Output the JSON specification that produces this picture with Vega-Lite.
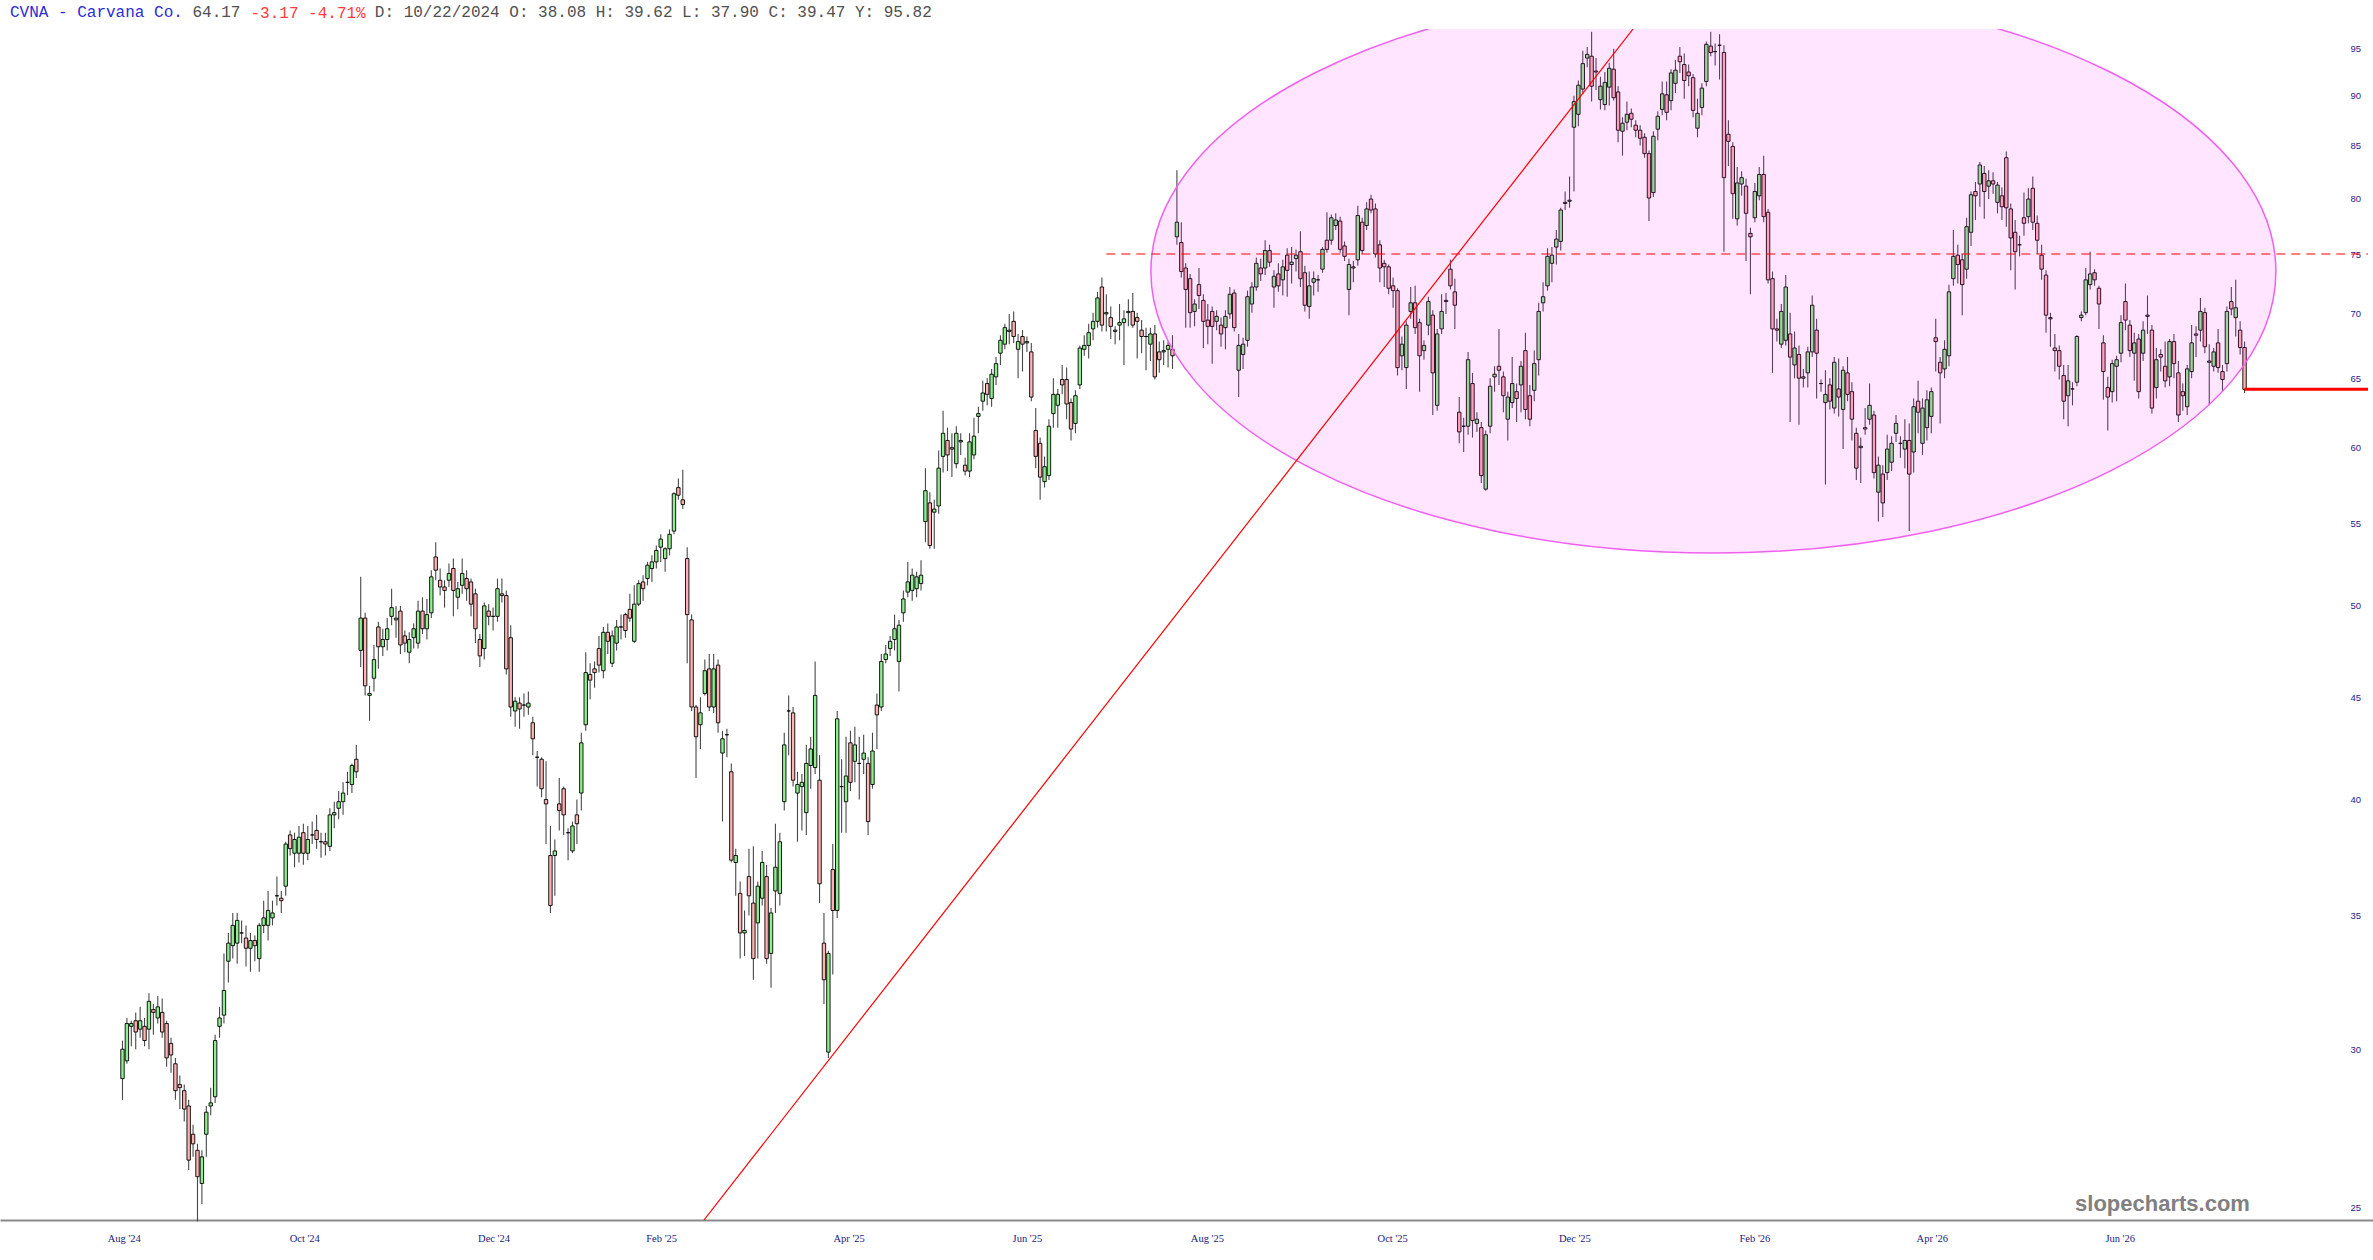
{
  "$schema": "https://vega.github.io/schema/vega-lite/v6.json",
  "width": 2373,
  "height": 1191,
  "autosize": {"type": "none"},
  "padding": {"top": 29, "left": 0, "right": 0, "bottom": 40},
  "background": "white",
  "config": {"view": {"stroke": null}},
  "title": {
    "text": "CVNA - Carvana Co.",
    "subtitle": "\u200b\u00a0\u00a0\u00a0\u00a0\u00a0\u00a0\u00a0\u00a0\u00a0\u00a0\u00a0\u00a0\u00a0\u00a0\u00a0\u00a0\u00a0\u00a0\u00a064.17\u00a0\u00a0\u00a0\u00a0\u00a0\u00a0\u00a0\u00a0\u00a0\u00a0\u00a0\u00a0\u00a0\u00a0D: 10/22/2024 O: 38.08 H: 39.62 L: 37.90 C: 39.47 Y: 95.82",
    "anchor": "start",
    "frame": "group",
    "dx": 10,
    "offset": -16,
    "font": "Liberation Mono",
    "fontSize": 16,
    "fontWeight": "normal",
    "color": "#2b2bd6",
    "subtitleFont": "Liberation Mono",
    "subtitleFontSize": 16,
    "subtitleColor": "#505050",
    "subtitlePadding": -16
  },
  "datasets": {
    "candles": [
      {"t":1,"o":29.0,"h":30.3,"l":28.3,"c":30.0},{"t":2,"o":29.6,"h":31.1,"l":29.5,"c":30.9},{"t":3,"o":30.8,"h":31.0,"l":30.1,"c":30.9},{"t":4,"o":31.0,"h":31.3,"l":30.0,"c":30.6},
      {"t":5,"o":30.7,"h":31.5,"l":30.4,"c":31.0},{"t":6,"o":30.8,"h":31.1,"l":30.1,"c":30.3},{"t":7,"o":30.7,"h":32.0,"l":30.0,"c":31.7},{"t":8,"o":31.4,"h":31.6,"l":30.5,"c":31.3},
      {"t":9,"o":31.1,"h":31.9,"l":30.9,"c":31.5},{"t":10,"o":31.3,"h":31.8,"l":30.4,"c":30.6},{"t":11,"o":30.9,"h":31.0,"l":29.4,"c":29.7},{"t":12,"o":30.2,"h":30.4,"l":29.2,"c":29.8},
      {"t":13,"o":29.5,"h":29.7,"l":28.3,"c":28.6},{"t":14,"o":28.8,"h":29.1,"l":28.0,"c":28.7},{"t":15,"o":28.6,"h":28.8,"l":27.6,"c":28.0},{"t":16,"o":28.1,"h":28.3,"l":26.1,"c":26.4},
      {"t":17,"o":27.2,"h":27.5,"l":26.5,"c":26.9},{"t":18,"o":26.7,"h":26.9,"l":24.6,"c":25.9},{"t":19,"o":25.7,"h":26.7,"l":25.1,"c":26.5},{"t":20,"o":27.2,"h":28.1,"l":26.5,"c":27.9},
      {"t":21,"o":28.1,"h":28.7,"l":27.8,"c":28.2},{"t":22,"o":28.4,"h":30.5,"l":28.2,"c":30.3},{"t":23,"o":30.8,"h":31.5,"l":30.4,"c":31.1},{"t":24,"o":31.2,"h":33.5,"l":30.9,"c":32.1},
      {"t":25,"o":33.2,"h":34.3,"l":32.4,"c":33.9},{"t":26,"o":33.8,"h":35.1,"l":33.3,"c":34.6},{"t":27,"o":33.9,"h":35.1,"l":33.1,"c":34.8},{"t":28,"o":34.3,"h":34.8,"l":33.9,"c":34.3},
      {"t":29,"o":34.1,"h":34.6,"l":33.0,"c":33.7},{"t":30,"o":33.7,"h":34.3,"l":32.8,"c":34.0},{"t":31,"o":34.0,"h":34.2,"l":33.2,"c":33.8},{"t":32,"o":33.3,"h":34.7,"l":32.8,"c":34.6},
      {"t":33,"o":34.6,"h":35.6,"l":34.3,"c":34.9},{"t":34,"o":34.6,"h":36.0,"l":34.0,"c":35.2},{"t":35,"o":34.9,"h":35.6,"l":34.6,"c":35.1},{"t":36,"o":35.8,"h":36.6,"l":35.4,"c":35.8},
      {"t":37,"o":35.7,"h":36.0,"l":35.1,"c":35.6},{"t":38,"o":36.2,"h":38.1,"l":35.8,"c":38.0},{"t":39,"o":38.4,"h":38.6,"l":37.5,"c":37.8},{"t":40,"o":37.6,"h":38.5,"l":37.0,"c":38.2},
      {"t":41,"o":37.6,"h":38.8,"l":37.2,"c":38.3},{"t":42,"o":38.5,"h":38.9,"l":37.1,"c":37.6},{"t":43,"o":37.6,"h":38.8,"l":37.3,"c":38.2},{"t":44,"o":38.4,"h":39.0,"l":38.0,"c":38.4},
      {"t":45,"o":38.6,"h":39.3,"l":37.8,"c":38.2},{"t":46,"o":38.1,"h":38.5,"l":37.4,"c":38.1},{"t":47,"o":38.1,"h":38.5,"l":37.5,"c":38.0},{"t":48,"o":37.9,"h":39.6,"l":37.7,"c":39.3},
      {"t":49,"o":39.3,"h":39.9,"l":38.7,"c":39.4},{"t":50,"o":39.6,"h":40.4,"l":39.1,"c":39.9},{"t":51,"o":39.9,"h":40.8,"l":39.3,"c":40.3},{"t":52,"o":40.8,"h":41.3,"l":40.2,"c":40.8},
      {"t":53,"o":40.7,"h":41.7,"l":40.3,"c":41.6},{"t":54,"o":41.9,"h":42.6,"l":41.0,"c":41.3},{"t":55,"o":47.5,"h":51.7,"l":46.6,"c":49.3},{"t":56,"o":49.3,"h":49.6,"l":45.1,"c":45.6},
      {"t":57,"o":45.1,"h":45.6,"l":43.8,"c":45.2},{"t":58,"o":46.0,"h":47.8,"l":45.3,"c":47.0},{"t":59,"o":48.8,"h":49.1,"l":46.5,"c":47.7},{"t":60,"o":47.7,"h":48.7,"l":47.2,"c":48.1},
      {"t":61,"o":48.1,"h":49.3,"l":47.5,"c":48.7},{"t":62,"o":49.4,"h":51.0,"l":48.9,"c":49.9},{"t":63,"o":49.2,"h":50.0,"l":48.2,"c":49.3},{"t":64,"o":49.7,"h":50.0,"l":47.3,"c":47.8},
      {"t":65,"o":48.3,"h":48.6,"l":47.4,"c":47.9},{"t":66,"o":47.4,"h":48.5,"l":46.8,"c":48.1},{"t":67,"o":48.2,"h":49.0,"l":47.6,"c":48.7},{"t":68,"o":47.9,"h":50.3,"l":47.6,"c":49.7},
      {"t":69,"o":49.7,"h":50.5,"l":48.4,"c":48.7},{"t":70,"o":48.7,"h":50.4,"l":48.1,"c":49.5},{"t":71,"o":49.6,"h":52.1,"l":49.3,"c":51.7},{"t":72,"o":52.9,"h":53.8,"l":51.5,"c":52.1},
      {"t":73,"o":51.5,"h":52.2,"l":50.6,"c":51.1},{"t":74,"o":51.1,"h":51.5,"l":49.9,"c":50.9},{"t":75,"o":51.5,"h":52.5,"l":51.1,"c":51.9},{"t":76,"o":52.2,"h":52.8,"l":49.4,"c":50.9},
      {"t":77,"o":50.5,"h":51.4,"l":49.8,"c":51.0},{"t":78,"o":51.2,"h":52.8,"l":50.7,"c":51.9},{"t":79,"o":51.6,"h":52.1,"l":50.3,"c":51.0},{"t":80,"o":51.4,"h":51.6,"l":49.4,"c":50.1},
      {"t":81,"o":50.7,"h":51.0,"l":47.9,"c":48.7},{"t":82,"o":48.1,"h":48.4,"l":46.6,"c":47.2},{"t":83,"o":47.6,"h":50.2,"l":47.0,"c":50.0},{"t":84,"o":49.7,"h":50.1,"l":48.9,"c":49.4},
      {"t":85,"o":49.4,"h":49.9,"l":48.6,"c":49.4},{"t":86,"o":49.4,"h":51.6,"l":49.1,"c":51.0},{"t":87,"o":50.7,"h":51.6,"l":50.2,"c":50.6},{"t":88,"o":50.6,"h":50.9,"l":46.2,"c":46.5},
      {"t":89,"o":48.2,"h":48.9,"l":44.0,"c":44.5},{"t":90,"o":44.3,"h":45.0,"l":43.5,"c":44.8},{"t":91,"o":44.7,"h":45.0,"l":43.4,"c":44.4},{"t":92,"o":44.6,"h":45.2,"l":44.0,"c":44.6},
      {"t":93,"o":44.5,"h":45.3,"l":44.1,"c":44.7},{"t":94,"o":43.7,"h":44.0,"l":42.1,"c":42.9},{"t":95,"o":42.0,"h":42.3,"l":40.6,"c":42.0},{"t":96,"o":41.9,"h":42.0,"l":40.1,"c":40.5},
      {"t":97,"o":40.0,"h":41.8,"l":38.0,"c":39.8},{"t":98,"o":37.5,"h":38.8,"l":35.1,"c":35.4},{"t":99,"o":37.5,"h":38.2,"l":35.8,"c":37.7},{"t":100,"o":39.8,"h":41.0,"l":38.6,"c":39.5},
      {"t":101,"o":40.5,"h":40.6,"l":38.4,"c":39.3},{"t":102,"o":38.5,"h":38.7,"l":37.3,"c":38.5},{"t":103,"o":37.7,"h":39.0,"l":37.6,"c":38.8},{"t":104,"o":39.3,"h":40.0,"l":38.0,"c":38.9},
      {"t":105,"o":40.3,"h":43.2,"l":39.5,"c":42.7},{"t":106,"o":43.6,"h":47.4,"l":43.3,"c":46.3},{"t":107,"o":46.2,"h":46.8,"l":44.9,"c":45.9},{"t":108,"o":46.5,"h":46.9,"l":45.5,"c":46.3},
      {"t":109,"o":47.6,"h":48.3,"l":46.3,"c":46.7},{"t":110,"o":46.4,"h":48.8,"l":46.0,"c":48.5},{"t":111,"o":48.5,"h":49.0,"l":47.3,"c":48.0},{"t":112,"o":46.8,"h":48.6,"l":46.6,"c":48.3},
      {"t":113,"o":47.9,"h":49.2,"l":47.5,"c":48.8},{"t":114,"o":48.8,"h":49.5,"l":48.1,"c":48.8},{"t":115,"o":49.5,"h":49.6,"l":48.2,"c":48.6},{"t":116,"o":49.8,"h":50.7,"l":49.1,"c":49.3},
      {"t":117,"o":48.0,"h":51.2,"l":47.9,"c":50.1},{"t":118,"o":50.1,"h":51.5,"l":50.0,"c":51.3},{"t":119,"o":51.4,"h":51.8,"l":50.3,"c":51.0},{"t":120,"o":51.6,"h":52.6,"l":51.2,"c":52.4},
      {"t":121,"o":52.2,"h":53.0,"l":51.4,"c":52.6},{"t":122,"o":52.6,"h":53.6,"l":52.2,"c":53.3},{"t":123,"o":53.5,"h":54.3,"l":52.6,"c":54.0},{"t":124,"o":52.8,"h":53.5,"l":52.0,"c":53.4},
      {"t":125,"o":53.4,"h":54.6,"l":53.0,"c":54.3},{"t":126,"o":54.5,"h":57.0,"l":54.3,"c":56.9},{"t":127,"o":57.3,"h":57.9,"l":56.5,"c":56.8},{"t":128,"o":56.5,"h":58.5,"l":55.9,"c":56.2},
      {"t":129,"o":52.8,"h":53.5,"l":46.8,"c":49.5},{"t":130,"o":49.2,"h":49.5,"l":44.3,"c":44.5},{"t":131,"o":44.5,"h":44.6,"l":41.0,"c":43.0},{"t":132,"o":43.6,"h":45.0,"l":42.4,"c":44.2},
      {"t":133,"o":45.2,"h":47.0,"l":45.1,"c":46.4},{"t":134,"o":46.5,"h":47.3,"l":44.3,"c":44.5},{"t":135,"o":44.5,"h":47.3,"l":44.2,"c":46.5},{"t":136,"o":46.7,"h":47.0,"l":43.2,"c":43.7},
      {"t":137,"o":42.2,"h":43.3,"l":39.0,"c":42.9},{"t":138,"o":43.1,"h":43.4,"l":42.0,"c":43.1},{"t":139,"o":41.3,"h":41.7,"l":37.2,"c":37.3},{"t":140,"o":37.2,"h":37.8,"l":35.8,"c":37.5},
      {"t":141,"o":35.9,"h":36.4,"l":33.3,"c":34.3},{"t":142,"o":34.3,"h":35.2,"l":33.4,"c":34.4},{"t":143,"o":36.6,"h":37.8,"l":35.0,"c":35.8},{"t":144,"o":35.5,"h":37.9,"l":32.5,"c":33.3},
      {"t":145,"o":34.7,"h":36.4,"l":33.3,"c":36.2},{"t":146,"o":35.7,"h":37.7,"l":35.4,"c":37.2},{"t":147,"o":36.6,"h":37.1,"l":33.1,"c":33.3},{"t":148,"o":33.5,"h":35.3,"l":32.2,"c":35.1},
      {"t":149,"o":36.0,"h":38.9,"l":35.1,"c":37.0},{"t":150,"o":35.9,"h":38.5,"l":35.4,"c":38.1},{"t":151,"o":39.9,"h":43.2,"l":39.5,"c":42.6},{"t":152,"o":44.3,"h":45.1,"l":42.1,"c":44.3},
      {"t":153,"o":44.2,"h":44.5,"l":40.6,"c":40.9},{"t":154,"o":40.3,"h":41.3,"l":38.1,"c":40.7},{"t":155,"o":40.6,"h":41.2,"l":38.6,"c":40.8},{"t":156,"o":39.4,"h":42.6,"l":38.4,"c":41.7},
      {"t":157,"o":41.6,"h":43.0,"l":40.5,"c":42.4},{"t":158,"o":41.5,"h":46.9,"l":41.2,"c":45.1},{"t":159,"o":40.9,"h":42.1,"l":35.5,"c":36.3},{"t":160,"o":33.9,"h":35.1,"l":31.6,"c":32.5},
      {"t":161,"o":29.9,"h":33.6,"l":29.7,"c":33.5},{"t":162,"o":36.9,"h":38.0,"l":32.7,"c":35.2},{"t":163,"o":35.2,"h":44.3,"l":34.9,"c":43.9},{"t":164,"o":40.6,"h":41.9,"l":38.5,"c":40.6},
      {"t":165,"o":39.9,"h":43.0,"l":38.5,"c":41.1},{"t":166,"o":42.7,"h":43.3,"l":40.4,"c":40.8},{"t":167,"o":41.8,"h":43.5,"l":40.8,"c":42.6},{"t":168,"o":41.7,"h":43.0,"l":40.0,"c":41.7},
      {"t":169,"o":41.9,"h":43.1,"l":41.2,"c":42.2},{"t":170,"o":41.7,"h":42.0,"l":38.4,"c":39.0},{"t":171,"o":40.7,"h":43.2,"l":40.5,"c":42.3},{"t":172,"o":44.6,"h":45.2,"l":42.4,"c":44.1},
      {"t":173,"o":44.5,"h":47.3,"l":44.3,"c":46.9},{"t":174,"o":47.0,"h":47.8,"l":46.8,"c":47.3},{"t":175,"o":47.6,"h":48.3,"l":47.2,"c":48.0},{"t":176,"o":48.1,"h":49.5,"l":47.5,"c":48.7},
      {"t":177,"o":46.9,"h":49.2,"l":45.3,"c":48.9},{"t":178,"o":49.6,"h":50.9,"l":49.1,"c":50.4},{"t":179,"o":50.8,"h":52.6,"l":50.5,"c":51.4},{"t":180,"o":50.9,"h":52.2,"l":50.3,"c":51.8},
      {"t":181,"o":51.0,"h":52.0,"l":50.5,"c":51.7},{"t":182,"o":51.3,"h":52.7,"l":50.9,"c":51.8},{"t":183,"o":55.1,"h":58.6,"l":53.8,"c":57.1},{"t":184,"o":56.3,"h":57.0,"l":53.4,"c":53.6},
      {"t":185,"o":55.7,"h":56.5,"l":53.4,"c":55.9},{"t":186,"o":56.1,"h":59.8,"l":55.6,"c":58.6},{"t":187,"o":59.4,"h":62.6,"l":58.3,"c":61.0},{"t":188,"o":60.5,"h":61.4,"l":58.4,"c":59.5},
      {"t":189,"o":60.0,"h":61.0,"l":58.0,"c":59.9},{"t":190,"o":58.9,"h":61.5,"l":58.6,"c":61.0},{"t":191,"o":60.4,"h":61.0,"l":59.5,"c":60.5},{"t":192,"o":58.8,"h":59.3,"l":58.1,"c":58.4},
      {"t":193,"o":58.4,"h":61.0,"l":58.0,"c":60.4},{"t":194,"o":59.5,"h":62.1,"l":59.2,"c":60.8},{"t":195,"o":62.2,"h":62.9,"l":61.0,"c":62.4},{"t":196,"o":63.3,"h":64.8,"l":62.6,"c":63.9},
      {"t":197,"o":64.6,"h":65.0,"l":63.0,"c":63.8},{"t":198,"o":63.5,"h":65.7,"l":62.9,"c":65.3},{"t":199,"o":65.1,"h":66.6,"l":64.5,"c":66.1},{"t":200,"o":66.9,"h":68.3,"l":66.0,"c":67.9},
      {"t":201,"o":67.6,"h":69.2,"l":67.2,"c":68.9},{"t":202,"o":68.7,"h":70.0,"l":67.6,"c":68.6},{"t":203,"o":69.4,"h":70.2,"l":67.7,"c":68.2},{"t":204,"o":67.2,"h":68.4,"l":65.0,"c":67.8},
      {"t":205,"o":68.2,"h":68.7,"l":65.5,"c":67.6},{"t":206,"o":67.7,"h":68.2,"l":67.0,"c":67.8},{"t":207,"o":67.0,"h":67.7,"l":63.3,"c":63.6},{"t":208,"o":61.2,"h":62.8,"l":58.6,"c":59.4},
      {"t":209,"o":60.3,"h":60.7,"l":56.5,"c":58.0},{"t":210,"o":57.7,"h":59.4,"l":57.3,"c":58.7},{"t":211,"o":58.1,"h":62.0,"l":57.8,"c":61.5},{"t":212,"o":62.4,"h":65.0,"l":61.4,"c":63.8},
      {"t":213,"o":63.0,"h":64.2,"l":61.4,"c":63.8},{"t":214,"o":64.9,"h":66.0,"l":63.8,"c":64.5},{"t":215,"o":64.9,"h":65.8,"l":62.0,"c":63.1},{"t":216,"o":63.2,"h":63.5,"l":60.5,"c":61.3},
      {"t":217,"o":61.7,"h":64.1,"l":61.0,"c":63.7},{"t":218,"o":64.5,"h":67.5,"l":64.2,"c":67.3},{"t":219,"o":67.2,"h":68.3,"l":66.7,"c":67.5},{"t":220,"o":67.5,"h":69.2,"l":66.5,"c":68.5},
      {"t":221,"o":68.8,"h":70.1,"l":67.9,"c":69.4},{"t":222,"o":69.4,"h":71.8,"l":68.9,"c":71.3},{"t":223,"o":72.2,"h":73.0,"l":68.6,"c":69.1},{"t":224,"o":70.0,"h":71.6,"l":68.6,"c":70.1},
      {"t":225,"o":69.7,"h":70.6,"l":68.0,"c":69.0},{"t":226,"o":68.7,"h":69.0,"l":67.6,"c":68.6},{"t":227,"o":69.1,"h":70.8,"l":67.9,"c":69.3},{"t":228,"o":69.3,"h":70.3,"l":66.0,"c":69.6},
      {"t":229,"o":70.1,"h":71.2,"l":69.0,"c":70.2},{"t":230,"o":70.2,"h":71.7,"l":68.9,"c":69.1},{"t":231,"o":69.7,"h":70.1,"l":66.5,"c":69.4},{"t":232,"o":68.7,"h":69.5,"l":66.9,"c":68.2},
      {"t":233,"o":68.2,"h":68.9,"l":65.6,"c":68.2},{"t":234,"o":67.6,"h":68.9,"l":66.3,"c":68.4},{"t":235,"o":68.4,"h":69.1,"l":64.9,"c":65.1},{"t":236,"o":67.0,"h":67.8,"l":65.4,"c":66.4},
      {"t":237,"o":67.0,"h":67.9,"l":66.0,"c":67.1},{"t":238,"o":67.2,"h":67.8,"l":65.8,"c":67.5},{"t":239,"o":67.2,"h":68.3,"l":65.7,"c":66.7},{"t":240,"o":76.5,"h":82.6,"l":75.8,"c":77.8},
      {"t":241,"o":76.0,"h":77.8,"l":73.0,"c":73.5},{"t":242,"o":73.8,"h":74.2,"l":68.9,"c":72.0},{"t":243,"o":72.9,"h":73.3,"l":68.9,"c":70.1},{"t":244,"o":70.2,"h":71.2,"l":69.0,"c":70.8},
      {"t":245,"o":72.4,"h":73.8,"l":70.4,"c":71.5},{"t":246,"o":71.1,"h":71.6,"l":67.3,"c":69.4},{"t":247,"o":69.5,"h":70.8,"l":67.6,"c":69.0},{"t":248,"o":70.2,"h":70.6,"l":66.1,"c":69.0},
      {"t":249,"o":69.4,"h":70.3,"l":68.7,"c":69.8},{"t":250,"o":69.1,"h":69.7,"l":67.4,"c":68.4},{"t":251,"o":68.9,"h":70.3,"l":67.2,"c":69.8},{"t":252,"o":70.0,"h":72.2,"l":69.6,"c":71.6},
      {"t":253,"o":71.7,"h":72.0,"l":68.6,"c":68.9},{"t":254,"o":65.6,"h":68.4,"l":63.6,"c":67.5},{"t":255,"o":66.8,"h":68.1,"l":65.7,"c":67.6},{"t":256,"o":67.9,"h":71.9,"l":67.4,"c":71.4},
      {"t":257,"o":70.8,"h":72.6,"l":70.1,"c":72.2},{"t":258,"o":72.2,"h":74.7,"l":71.9,"c":74.2},{"t":259,"o":73.8,"h":74.6,"l":72.7,"c":73.3},{"t":260,"o":73.8,"h":76.2,"l":73.2,"c":75.3},
      {"t":261,"o":75.3,"h":75.8,"l":73.9,"c":74.3},{"t":262,"o":72.2,"h":73.6,"l":70.5,"c":73.1},{"t":263,"o":73.3,"h":74.2,"l":71.8,"c":72.3},{"t":264,"o":72.8,"h":74.5,"l":71.5,"c":73.9},
      {"t":265,"o":74.9,"h":75.5,"l":71.4,"c":73.6},{"t":266,"o":74.1,"h":75.6,"l":72.5,"c":74.3},{"t":267,"o":74.6,"h":75.4,"l":73.5,"c":74.9},{"t":268,"o":75.2,"h":77.0,"l":72.2,"c":72.9},
      {"t":269,"o":73.4,"h":74.0,"l":70.2,"c":70.7},{"t":270,"o":70.6,"h":73.5,"l":69.6,"c":72.3},{"t":271,"o":72.6,"h":73.5,"l":71.5,"c":72.9},{"t":272,"o":72.8,"h":73.2,"l":71.8,"c":72.8},
      {"t":273,"o":73.7,"h":75.6,"l":73.4,"c":75.4},{"t":274,"o":76.2,"h":78.7,"l":75.1,"c":75.4},{"t":275,"o":76.2,"h":78.5,"l":75.8,"c":78.2},{"t":276,"o":77.5,"h":78.6,"l":77.1,"c":78.0},
      {"t":277,"o":77.9,"h":78.3,"l":75.1,"c":75.4},{"t":278,"o":75.7,"h":76.1,"l":74.4,"c":74.8},{"t":279,"o":72.0,"h":74.6,"l":69.9,"c":74.1},{"t":280,"o":73.8,"h":74.4,"l":72.6,"c":73.9},
      {"t":281,"o":74.5,"h":79.3,"l":74.0,"c":78.4},{"t":282,"o":77.8,"h":78.2,"l":75.0,"c":75.3},{"t":283,"o":77.5,"h":79.6,"l":77.1,"c":79.0},{"t":284,"o":79.9,"h":80.3,"l":78.6,"c":78.9},
      {"t":285,"o":79.0,"h":79.5,"l":74.7,"c":75.0},{"t":286,"o":75.8,"h":76.2,"l":72.6,"c":73.8},{"t":287,"o":74.2,"h":74.5,"l":72.2,"c":73.9},{"t":288,"o":73.9,"h":74.1,"l":71.6,"c":72.1},
      {"t":289,"o":72.3,"h":73.0,"l":70.5,"c":71.9},{"t":290,"o":71.9,"h":72.1,"l":65.2,"c":65.8},{"t":291,"o":66.7,"h":68.2,"l":65.6,"c":67.6},{"t":292,"o":65.8,"h":69.4,"l":64.2,"c":69.1},
      {"t":293,"o":70.2,"h":72.2,"l":69.6,"c":70.9},{"t":294,"o":70.9,"h":72.3,"l":68.4,"c":68.9},{"t":295,"o":69.3,"h":69.6,"l":64.0,"c":66.7},{"t":296,"o":67.1,"h":67.9,"l":66.4,"c":67.5},
      {"t":297,"o":69.1,"h":71.4,"l":68.3,"c":71.0},{"t":298,"o":69.9,"h":70.3,"l":62.3,"c":65.4},{"t":299,"o":63.0,"h":68.8,"l":62.6,"c":68.4},{"t":300,"o":68.8,"h":71.6,"l":68.4,"c":70.2},
      {"t":301,"o":71.0,"h":71.7,"l":70.0,"c":71.1},{"t":302,"o":73.7,"h":74.5,"l":72.0,"c":72.3},{"t":303,"o":71.8,"h":72.9,"l":68.8,"c":70.7},{"t":304,"o":62.5,"h":63.6,"l":60.3,"c":61.1},
      {"t":305,"o":61.5,"h":62.1,"l":59.7,"c":61.5},{"t":306,"o":61.5,"h":67.0,"l":60.9,"c":66.4},{"t":307,"o":64.6,"h":65.4,"l":60.7,"c":61.9},{"t":308,"o":61.7,"h":62.5,"l":61.1,"c":62.0},
      {"t":309,"o":61.4,"h":61.8,"l":57.6,"c":58.1},{"t":310,"o":57.2,"h":61.2,"l":57.1,"c":60.9},{"t":311,"o":61.5,"h":65.0,"l":61.0,"c":64.4},{"t":312,"o":65.1,"h":65.9,"l":64.0,"c":65.3},
      {"t":313,"o":65.9,"h":68.8,"l":64.5,"c":65.6},{"t":314,"o":65.1,"h":65.5,"l":62.5,"c":63.7},{"t":315,"o":62.0,"h":64.0,"l":60.5,"c":63.6},{"t":316,"o":63.2,"h":66.6,"l":62.8,"c":64.6},
      {"t":317,"o":64.0,"h":64.6,"l":61.8,"c":63.5},{"t":318,"o":64.5,"h":66.3,"l":62.5,"c":65.9},{"t":319,"o":67.1,"h":68.5,"l":62.0,"c":62.7},{"t":320,"o":63.7,"h":64.5,"l":61.5,"c":62.0},
      {"t":321,"o":64.1,"h":67.1,"l":63.3,"c":66.1},{"t":322,"o":66.4,"h":70.9,"l":65.2,"c":70.2},{"t":323,"o":70.9,"h":72.6,"l":70.2,"c":71.4},{"t":324,"o":72.3,"h":75.5,"l":71.9,"c":74.8},
      {"t":325,"o":74.2,"h":75.6,"l":72.6,"c":74.9},{"t":326,"o":75.6,"h":77.1,"l":74.1,"c":76.3},{"t":327,"o":76.1,"h":79.1,"l":75.3,"c":78.9},{"t":328,"o":79.5,"h":80.6,"l":78.9,"c":79.6},
      {"t":329,"o":79.7,"h":82.0,"l":79.1,"c":79.8},{"t":330,"o":86.8,"h":90.0,"l":80.6,"c":89.4},{"t":331,"o":88.1,"h":91.6,"l":86.9,"c":91.1},{"t":332,"o":90.7,"h":94.8,"l":90.2,"c":93.4},
      {"t":333,"o":94.0,"h":95.2,"l":93.0,"c":94.4},{"t":334,"o":94.2,"h":96.9,"l":89.4,"c":91.0},{"t":335,"o":92.6,"h":94.0,"l":90.6,"c":92.5},{"t":336,"o":89.6,"h":92.0,"l":88.6,"c":91.0},
      {"t":337,"o":89.1,"h":92.5,"l":88.5,"c":91.4},{"t":338,"o":90.9,"h":93.5,"l":89.0,"c":92.9},{"t":339,"o":92.8,"h":95.0,"l":89.5,"c":89.8},{"t":340,"o":90.4,"h":91.0,"l":85.3,"c":86.5},
      {"t":341,"o":86.4,"h":87.8,"l":84.0,"c":87.2},{"t":342,"o":87.3,"h":89.4,"l":86.5,"c":88.1},{"t":343,"o":88.2,"h":88.7,"l":86.8,"c":87.6},{"t":344,"o":87.0,"h":87.5,"l":85.8,"c":86.5},
      {"t":345,"o":86.5,"h":87.0,"l":85.0,"c":85.7},{"t":346,"o":85.8,"h":86.2,"l":83.8,"c":84.2},{"t":347,"o":84.2,"h":84.5,"l":77.9,"c":80.0},{"t":348,"o":80.5,"h":86.4,"l":80.1,"c":85.9},
      {"t":349,"o":86.6,"h":88.4,"l":85.5,"c":87.9},{"t":350,"o":88.6,"h":91.5,"l":88.0,"c":90.2},{"t":351,"o":90.1,"h":91.5,"l":87.5,"c":88.3},{"t":352,"o":89.5,"h":92.8,"l":88.5,"c":92.4},
      {"t":353,"o":91.3,"h":93.8,"l":90.3,"c":92.7},{"t":354,"o":94.2,"h":95.2,"l":92.4,"c":93.6},{"t":355,"o":93.3,"h":94.5,"l":89.7,"c":91.6},{"t":356,"o":92.5,"h":93.3,"l":91.0,"c":92.1},
      {"t":357,"o":91.9,"h":92.3,"l":87.8,"c":88.5},{"t":358,"o":86.7,"h":89.7,"l":85.8,"c":88.2},{"t":359,"o":88.8,"h":91.3,"l":88.0,"c":90.8},{"t":360,"o":91.5,"h":95.8,"l":91.0,"c":95.5},
      {"t":361,"o":95.3,"h":96.9,"l":94.2,"c":94.6},{"t":362,"o":94.7,"h":95.6,"l":93.2,"c":94.7},{"t":363,"o":95.4,"h":96.6,"l":91.7,"c":95.4},{"t":364,"o":94.6,"h":95.4,"l":75.2,"c":81.9},
      {"t":365,"o":86.1,"h":87.5,"l":83.0,"c":85.4},{"t":366,"o":84.9,"h":85.3,"l":78.1,"c":80.4},{"t":367,"o":78.1,"h":82.9,"l":77.5,"c":81.4},{"t":368,"o":81.3,"h":82.5,"l":80.2,"c":81.9},
      {"t":369,"o":81.1,"h":81.8,"l":74.4,"c":78.6},{"t":370,"o":76.8,"h":77.3,"l":71.6,"c":76.5},{"t":371,"o":78.2,"h":81.4,"l":77.8,"c":80.6},{"t":372,"o":80.2,"h":82.9,"l":79.8,"c":82.2},
      {"t":373,"o":82.2,"h":84.0,"l":77.8,"c":78.3},{"t":374,"o":78.7,"h":79.0,"l":72.5,"c":72.8},{"t":375,"o":72.9,"h":73.5,"l":65.4,"c":68.8},{"t":376,"o":68.8,"h":69.6,"l":67.8,"c":68.7},
      {"t":377,"o":67.6,"h":70.8,"l":67.3,"c":70.2},{"t":378,"o":67.9,"h":73.2,"l":67.5,"c":72.2},{"t":379,"o":68.4,"h":70.1,"l":61.8,"c":66.6},{"t":380,"o":66.0,"h":68.6,"l":65.0,"c":67.3},
      {"t":381,"o":66.8,"h":67.5,"l":61.6,"c":65.0},{"t":382,"o":65.0,"h":65.7,"l":64.3,"c":65.1},{"t":383,"o":65.4,"h":67.4,"l":64.3,"c":67.0},{"t":384,"o":67.0,"h":71.5,"l":66.6,"c":70.7},
      {"t":385,"o":68.7,"h":69.6,"l":63.5,"c":66.9},{"t":386,"o":64.6,"h":64.9,"l":64.0,"c":64.6},{"t":387,"o":63.2,"h":65.6,"l":57.5,"c":63.8},{"t":388,"o":64.5,"h":65.0,"l":62.7,"c":63.3},
      {"t":389,"o":62.8,"h":66.6,"l":62.4,"c":66.2},{"t":390,"o":64.2,"h":66.5,"l":62.2,"c":63.6},{"t":391,"o":62.7,"h":65.9,"l":59.9,"c":65.6},{"t":392,"o":65.4,"h":66.6,"l":63.3,"c":63.8},
      {"t":393,"o":64.0,"h":64.7,"l":60.5,"c":62.0},{"t":394,"o":61.0,"h":61.4,"l":57.8,"c":58.6},{"t":395,"o":60.0,"h":60.7,"l":57.6,"c":60.1},{"t":396,"o":61.4,"h":62.8,"l":60.9,"c":61.3},
      {"t":397,"o":62.0,"h":64.6,"l":61.6,"c":63.0},{"t":398,"o":62.3,"h":62.6,"l":57.9,"c":58.3},{"t":399,"o":57.0,"h":59.4,"l":55.1,"c":58.8},{"t":400,"o":58.2,"h":58.8,"l":55.4,"c":56.3},
      {"t":401,"o":58.3,"h":60.9,"l":57.8,"c":59.9},{"t":402,"o":59.0,"h":60.8,"l":58.4,"c":60.3},{"t":403,"o":61.0,"h":62.3,"l":60.4,"c":61.7},{"t":404,"o":60.3,"h":60.8,"l":59.3,"c":60.3},
      {"t":405,"o":59.9,"h":62.0,"l":58.6,"c":60.5},{"t":406,"o":60.5,"h":61.7,"l":54.5,"c":58.2},{"t":407,"o":59.7,"h":63.5,"l":58.3,"c":62.9},{"t":408,"o":63.3,"h":64.8,"l":61.0,"c":62.5},
      {"t":409,"o":60.3,"h":63.5,"l":59.5,"c":62.8},{"t":410,"o":61.4,"h":64.1,"l":60.5,"c":63.4},{"t":411,"o":62.2,"h":64.3,"l":61.0,"c":64.0},{"t":412,"o":68.1,"h":69.6,"l":65.5,"c":67.8},
      {"t":413,"o":66.2,"h":66.6,"l":61.7,"c":65.4},{"t":414,"o":65.7,"h":67.9,"l":65.0,"c":67.2},{"t":415,"o":66.7,"h":72.4,"l":65.9,"c":71.8},{"t":416,"o":72.9,"h":77.1,"l":72.3,"c":74.8},
      {"t":417,"o":74.9,"h":75.8,"l":72.5,"c":74.1},{"t":418,"o":74.5,"h":75.0,"l":69.9,"c":72.4},{"t":419,"o":73.7,"h":78.2,"l":72.9,"c":77.4},{"t":420,"o":76.9,"h":80.6,"l":75.7,"c":80.3},
      {"t":421,"o":80.6,"h":81.5,"l":78.0,"c":80.2},{"t":422,"o":81.3,"h":83.4,"l":79.2,"c":83.1},{"t":423,"o":82.3,"h":83.0,"l":78.1,"c":80.6},{"t":424,"o":81.1,"h":82.6,"l":79.9,"c":81.6},
      {"t":425,"o":81.6,"h":82.4,"l":80.4,"c":81.3},{"t":426,"o":79.6,"h":81.5,"l":78.6,"c":81.2},{"t":427,"o":80.2,"h":81.0,"l":78.0,"c":79.2},{"t":428,"o":83.8,"h":84.4,"l":77.4,"c":79.1},
      {"t":429,"o":79.0,"h":79.5,"l":73.6,"c":76.4},{"t":430,"o":76.9,"h":78.0,"l":72.0,"c":75.2},{"t":431,"o":75.8,"h":76.6,"l":74.8,"c":75.8},{"t":432,"o":78.2,"h":80.5,"l":76.6,"c":77.7},
      {"t":433,"o":78.3,"h":80.9,"l":77.7,"c":79.9},{"t":434,"o":80.9,"h":82.0,"l":77.1,"c":77.8},{"t":435,"o":77.7,"h":78.4,"l":75.0,"c":76.2},{"t":436,"o":74.9,"h":75.8,"l":72.8,"c":73.7},
      {"t":437,"o":73.2,"h":73.6,"l":68.5,"c":69.9},{"t":438,"o":69.7,"h":70.1,"l":67.4,"c":69.6},{"t":439,"o":67.3,"h":68.4,"l":65.5,"c":67.1},{"t":440,"o":67.1,"h":67.5,"l":64.9,"c":65.9},
      {"t":441,"o":65.2,"h":66.0,"l":62.0,"c":63.3},{"t":442,"o":63.7,"h":66.0,"l":61.5,"c":64.8},{"t":443,"o":64.2,"h":64.7,"l":63.0,"c":64.2},{"t":444,"o":64.7,"h":68.3,"l":64.4,"c":68.2},
      {"t":445,"o":69.7,"h":70.2,"l":69.4,"c":69.9},{"t":446,"o":70.1,"h":73.8,"l":69.9,"c":72.8},{"t":447,"o":72.4,"h":75.2,"l":72.0,"c":73.3},{"t":448,"o":73.4,"h":73.7,"l":72.3,"c":72.8},
      {"t":449,"o":72.1,"h":72.3,"l":68.8,"c":70.8},{"t":450,"o":67.7,"h":68.3,"l":63.4,"c":65.5},{"t":451,"o":64.3,"h":65.1,"l":61.2,"c":63.6},{"t":452,"o":64.0,"h":66.4,"l":63.2,"c":66.1},
      {"t":453,"o":65.9,"h":66.7,"l":63.3,"c":66.4},{"t":454,"o":66.9,"h":69.9,"l":66.2,"c":69.3},{"t":455,"o":71.0,"h":72.5,"l":68.7,"c":69.5},{"t":456,"o":69.1,"h":69.5,"l":66.6,"c":67.1},
      {"t":457,"o":66.9,"h":68.5,"l":64.8,"c":67.7},{"t":458,"o":68.0,"h":68.4,"l":63.5,"c":64.0},{"t":459,"o":66.9,"h":69.4,"l":66.3,"c":68.7},{"t":460,"o":69.9,"h":71.5,"l":68.4,"c":69.8},
      {"t":461,"o":68.7,"h":69.1,"l":62.4,"c":62.8},{"t":462,"o":64.3,"h":67.3,"l":63.5,"c":66.4},{"t":463,"o":66.8,"h":67.2,"l":65.5,"c":66.6},{"t":464,"o":65.9,"h":67.8,"l":64.3,"c":64.8},
      {"t":465,"o":65.1,"h":68.0,"l":64.4,"c":67.8},{"t":466,"o":67.8,"h":68.4,"l":65.0,"c":66.1},{"t":467,"o":65.4,"h":66.3,"l":61.8,"c":62.3},{"t":468,"o":64.0,"h":64.6,"l":62.6,"c":63.7},
      {"t":469,"o":62.9,"h":66.0,"l":62.3,"c":65.7},{"t":470,"o":65.5,"h":69.1,"l":65.0,"c":67.7},{"t":471,"o":68.4,"h":69.0,"l":66.6,"c":68.3},{"t":472,"o":68.7,"h":71.3,"l":67.8,"c":70.2},
      {"t":473,"o":70.1,"h":70.5,"l":66.9,"c":67.4},{"t":474,"o":66.2,"h":67.6,"l":63.0,"c":66.3},{"t":475,"o":65.9,"h":67.3,"l":65.5,"c":67.0},{"t":476,"o":67.7,"h":68.8,"l":65.4,"c":65.8},
      {"t":477,"o":65.5,"h":66.0,"l":64.0,"c":64.9},{"t":478,"o":66.1,"h":70.6,"l":65.5,"c":70.2},{"t":479,"o":71.0,"h":72.2,"l":69.9,"c":70.4},{"t":480,"o":69.7,"h":72.8,"l":68.2,"c":70.5},
      {"t":481,"o":68.7,"h":69.4,"l":66.8,"c":67.34},{"t":482,"o":67.34,"h":67.8,"l":63.9,"c":64.17}
    ],
    "zone": [{"t": 361.6, "v": 73.5}],
    "resistance": [{"t": 224.0, "t2": 509.98, "v": 75}],
    "trend": [{"t": 132.8, "t2": 343.4, "v": 24.64, "v2": 97.2}],
    "last": [{"t": 482, "t2": 509.98, "v": 64.17}]
  },
  "encoding": {
    "x": {
      "field": "t",
      "type": "quantitative",
      "scale": {"domain": [-25.63, 509.98], "nice": false, "zero": false},
      "axis": {
        "values": [1.3, 42.2, 85.1, 123.1, 165.6, 206, 246.8, 288.8, 330.1, 370.9, 411.1, 453.7],
        "labelExpr": "[\"Aug '24\",\"Oct '24\",\"Dec '24\",\"Feb '25\",\"Apr '25\",\"Jun '25\",\"Aug '25\",\"Oct '25\",\"Dec '25\",\"Feb '26\",\"Apr '26\",\"Jun '26\"][indexof([1.3,42.2,85.1,123.1,165.6,206,246.8,288.8,330.1,370.9,411.1,453.7],datum.value)]",
        "domain": true,
        "domainColor": "#8a8a8a",
        "domainWidth": 2,
        "ticks": false,
        "tickSize": 0,
        "grid": false,
        "labelPadding": 13,
        "labelFont": "Liberation Serif",
        "labelFontSize": 10.5,
        "labelColor": "#1a1a80",
        "labelOverlap": false,
        "labelFlush": false,
        "title": "-3.17 -4.71%",
        "titleX": 250,
        "titleY": -1208,
        "titleAngle": 0,
        "titleAlign": "left",
        "titleBaseline": "middle",
        "titleFont": "Liberation Mono",
        "titleFontSize": 16,
        "titleFontWeight": "normal",
        "titleColor": "#ff3b3b"
      }
    }
  },
  "layer": [
    {
      "data": {"name": "candles"},
      "mark": {"type": "rule", "color": "#484848", "strokeWidth": 1.1},
      "encoding": {
        "y": {
          "field": "l",
          "type": "quantitative",
          "scale": {"type": "log", "domain": [24.64, 97.2], "nice": false, "zero": false},
          "axis": {
            "orient": "right",
            "offset": -23,
            "values": [25, 30, 35, 40, 45, 50, 55, 60, 65, 70, 75, 80, 85, 90, 95],
            "format": "d",
            "domain": false,
            "ticks": false,
            "tickSize": 0,
            "grid": false,
            "labelPadding": 0,
            "labelAlign": "left",
            "labelFont": "Liberation Sans",
            "labelFontSize": 9.5,
            "labelColor": "#25258a",
            "labelOverlap": false,
            "labelFlush": false,
            "title": "slopecharts.com",
            "titleX": -188,
            "titleY": 1174,
            "titleAngle": 0,
            "titleAlign": "center",
            "titleBaseline": "middle",
            "titleFont": "Liberation Sans",
            "titleFontSize": 22,
            "titleFontWeight": "bold",
            "titleColor": "#808080"
          }
        },
        "y2": {"field": "h"}
      }
    },
    {
      "data": {"name": "candles"},
      "mark": {"type": "bar", "size": 3.4, "stroke": "#000000", "strokeWidth": 0.9},
      "encoding": {
        "y": {
          "field": "o",
          "type": "quantitative",
          "scale": {"type": "log", "domain": [24.64, 97.2], "nice": false, "zero": false}
        },
        "y2": {"field": "c"},
        "fill": {
          "condition": {"test": "datum.c >= datum.o", "value": "#90ee90"},
          "value": "#ffb3b3"
        }
      }
    },
    {
      "data": {"name": "zone"},
      "mark": {
        "type": "point",
        "shape": "M-1,0C-1,-0.2764,-0.5523,-0.5004,0,-0.5004C0.5523,-0.5004,1,-0.2764,1,0C1,0.2764,0.5523,0.5004,0,0.5004C-0.5523,0.5004,-1,0.2764,-1,0Z",
        "size": 1265625,
        "filled": true,
        "fill": "#ff00ff",
        "fillOpacity": 0.1,
        "stroke": "#f060f0",
        "strokeWidth": 1.5,
        "strokeOpacity": 1,
        "opacity": 1,
        "clip": true
      },
      "encoding": {
        "y": {
          "field": "v",
          "type": "quantitative",
          "scale": {"type": "log", "domain": [24.64, 97.2], "nice": false, "zero": false}
        }
      }
    },
    {
      "data": {"name": "resistance"},
      "mark": {"type": "rule", "color": "#ff0000", "strokeWidth": 1.2, "strokeDash": [9, 6]},
      "encoding": {
        "x2": {"field": "t2"},
        "y": {
          "field": "v",
          "type": "quantitative",
          "scale": {"type": "log", "domain": [24.64, 97.2], "nice": false, "zero": false}
        }
      }
    },
    {
      "data": {"name": "trend"},
      "mark": {"type": "rule", "color": "#ff0000", "strokeWidth": 1.2, "clip": true},
      "encoding": {
        "x2": {"field": "t2"},
        "y": {
          "field": "v",
          "type": "quantitative",
          "scale": {"type": "log", "domain": [24.64, 97.2], "nice": false, "zero": false}
        },
        "y2": {"field": "v2"}
      }
    },
    {
      "data": {"name": "last"},
      "mark": {"type": "rule", "color": "#ff0000", "strokeWidth": 3},
      "encoding": {
        "x2": {"field": "t2"},
        "y": {
          "field": "v",
          "type": "quantitative",
          "scale": {"type": "log", "domain": [24.64, 97.2], "nice": false, "zero": false}
        }
      }
    }
  ]
}
